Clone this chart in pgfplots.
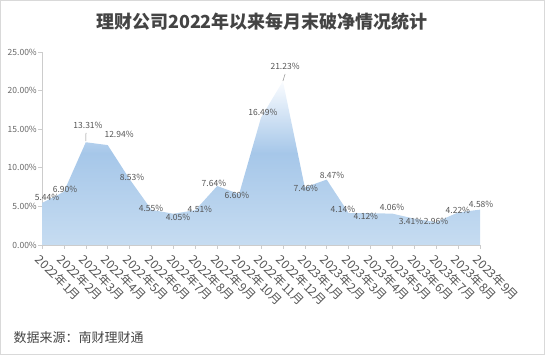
\documentclass[border=0pt]{standalone}
\usepackage{pgfplots}
\pgfplotsset{compat=1.18}
\usepackage{fontspec}
\setmainfont{Noto Sans CJK SC}
\definecolor{cbot}{RGB}{198,220,241}
\definecolor{cmid}{RGB}{166,199,233}
\definecolor{ctop}{RGB}{250,252,255}
\definecolor{txt}{RGB}{85,85,85}
\definecolor{ttl}{RGB}{68,68,68}
\definecolor{axc}{RGB}{204,204,204}
\pgfdeclareverticalshading{areashade}{100bp}{color(0bp)=(cbot); color(25bp)=(cbot); color(53bp)=(cmid); color(75bp)=(ctop); color(100bp)=(ctop)}
\begin{document}
\begin{tikzpicture}
\path[use as bounding box] (0,0) rectangle (545pt,355pt);
\draw[draw=black!15, line width=1pt] (0.5pt,0.5pt) rectangle (544.5pt,354.5pt);
\node[font=\fontsize{18}{20}\selectfont\bfseries, text=ttl] at (262pt,333pt) {理财公司2022年以来每月末破净情况统计};
\node[font=\fontsize{13}{15}\selectfont, text=ttl, anchor=west] at (10pt,17pt) {数据来源：南财理财通};
\begin{axis}[
  at={(42pt,110pt)}, anchor=south west,
  scale only axis, width=438pt, height=193pt,
  xmin=0, xmax=20, ymin=0, ymax=25,
  clip=false,
  axis x line=bottom, axis y line=left,
  axis line style={draw=axc, -},
  tick style={draw=axc, line width=0.6pt},
  tick align=outside,
  major tick length=4pt,
  xtick={0,...,20},
  xticklabels={2022年1月,2022年2月,2022年3月,2022年4月,2022年5月,2022年6月,2022年7月,2022年8月,2022年9月,2022年10月,2022年11月,2022年12月,2023年1月,2023年2月,2023年3月,2023年4月,2023年5月,2023年6月,2023年7月,2023年8月,2023年9月},
  x tick label style={rotate=-45, anchor=north west, font=\fontsize{12}{12}\selectfont, text=txt, inner sep=1pt, xshift=2pt, yshift=-2pt},
  ytick={0,5,10,15,20,25},
  yticklabels={0.00\%,5.00\%,10.00\%,15.00\%,20.00\%,25.00\%},
  y tick label style={font=\fontsize{8.5}{9}\selectfont, text=black!60, inner sep=1pt},
]
\addplot[draw=none, shading=areashade] coordinates {
(0,5.44) (1,6.90) (2,13.31) (3,12.94) (4,8.53) (5,4.55) (6,4.05) (7,4.51) (8,7.64) (9,6.60) (10,16.49) (11,21.23) (12,7.46) (13,8.47) (14,4.14) (15,4.12) (16,4.06) (17,3.41) (18,2.96) (19,4.22) (20,4.58)
} \closedcycle;
\begin{scope}[every node/.style={font=\fontsize{8.5}{9}\selectfont, text=txt, inner sep=0pt}]
\node at (axis cs:0.23,6.22) {5.44\%};
\node at (axis cs:1.05,7.25) {6.90\%};
\node at (axis cs:2.10,15.54) {13.31\%};
\node at (axis cs:3.52,14.38) {12.94\%};
\node at (axis cs:4.11,8.81) {8.53\%};
\node at (axis cs:4.98,4.79) {4.55\%};
\node at (axis cs:6.21,3.63) {4.05\%};
\node at (axis cs:7.21,4.66) {4.51\%};
\node at (axis cs:7.85,8.03) {7.64\%};
\node at (axis cs:8.90,6.48) {6.60\%};
\node at (axis cs:10.09,17.23) {16.49\%};
\node at (axis cs:11.10,23.19) {21.23\%};
\node at (axis cs:12.05,7.38) {7.46\%};
\node at (axis cs:13.24,9.07) {8.47\%};
\node at (axis cs:13.74,4.66) {4.14\%};
\node at (axis cs:14.79,3.76) {4.12\%};
\node at (axis cs:15.98,4.92) {4.06\%};
\node at (axis cs:16.85,3.11) {3.41\%};
\node at (axis cs:17.99,3.11) {2.96\%};
\node at (axis cs:18.99,4.53) {4.22\%};
\node at (axis cs:20.05,5.31) {4.58\%};
\end{scope}
\draw[black!45, line width=0.5pt] (axis cs:2.01,14.51) -- (axis cs:2.0,13.47);
\draw[black!45, line width=0.5pt] (axis cs:11.10,22.15) -- (axis cs:11.0,21.24);
\end{axis}
\end{tikzpicture}
\end{document}
